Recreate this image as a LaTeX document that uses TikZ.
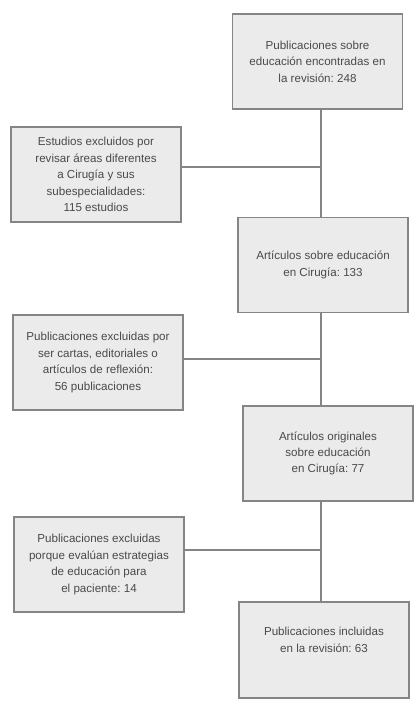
\documentclass[tikz,border=0pt]{standalone}
\usepackage{fontspec}
\setmainfont{Liberation Sans}
\frenchspacing
\definecolor{boxfill}{HTML}{EBEBEB}
\definecolor{boxdraw}{HTML}{858585}
\definecolor{txt}{HTML}{4A4A4A}
\begin{document}
\begin{tikzpicture}[x=1pt,y=-1pt,
  box/.style={draw=boxdraw,fill=boxfill,line width=1.3pt,minimum width=170pt,minimum height=95pt,
    align=center,text=txt,font=\fontsize{11.6}{16.4}\selectfont\frenchspacing,inner sep=2pt},
  link/.style={draw=boxdraw,line width=1.3pt}]
\useasboundingbox (0,0) rectangle (414,706);
\node[box] (b1) at (317.5,61.5) {Publicaciones sobre\\educación encontradas en\\la revisión: 248};
\node[box] (b2) at (96,174.5) {Estudios excluidos por\\revisar áreas diferentes\\a Cirugía y sus\\subespecialidades:\\115 estudios};
\node[box] (b3) at (323,265) {Artículos sobre educación\\en Cirugía: 133};
\node[box] (b4) at (98,362.5) {Publicaciones excluidas por\\ser cartas, editoriales o\\artículos de reflexión:\\56 publicaciones};
\node[box] (b5) at (328,453.5) {Artículos originales\\sobre educación\\en Cirugía: 77};
\node[box] (b6) at (99,564.5) {Publicaciones excluidas\\porque evalúan estrategias\\de educación para\\el paciente: 14};
\node[box,minimum height=96pt] (b7) at (324,650) {Publicaciones incluidas\\en la revisión: 63\\[4pt]};
\coordinate (j1) at (321,167);
\coordinate (j2) at (321,359);
\coordinate (j3) at (321,550);
\draw[link] (b1.south -| j1) -- (b3.north -| j1);
\draw[link] (b3.south -| j1) -- (b5.north -| j1);
\draw[link] (b5.south -| j1) -- (b7.north -| j1);
\draw[link] (j1 -| b2.east) -- (j1);
\draw[link] (j2 -| b4.east) -- (j2);
\draw[link] (j3 -| b6.east) -- (j3);
\end{tikzpicture}
\end{document}
